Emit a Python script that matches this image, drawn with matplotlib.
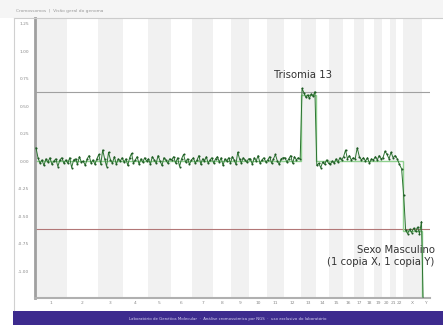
import numpy as np
import matplotlib
matplotlib.use('Agg')
import matplotlib.pyplot as plt
from matplotlib.patches import Rectangle
from matplotlib.lines import Line2D

# chromosome sizes in Mb
chroms = ['1', '2', '3', '4', '5', '6', '7', '8', '9', '10', '11', '12', '13', '14', '15',
          '16', '17', '18', '19', '20', '21', '22', 'X', 'Y']
sizes = [249, 243, 198, 191, 181, 171, 159, 146, 141, 136, 135, 134, 115, 107, 103,
         90, 81, 78, 59, 63, 48, 51, 155, 59]

# log2 ratio per bin
ratios = [
    [0.12, 0.03, -0.02, 0.01, -0.04, 0.02, -0.01, 0.03, -0.03, 0.00, 0.02, -0.05, 0.01, 0.03, -0.02, 0.01],
    [-0.02, 0.03, -0.06, 0.01, 0.02, -0.03, 0.04, -0.01, 0.00, -0.04, 0.02, 0.05, -0.02, 0.01, -0.03, 0.02],
    [0.06, -0.03, 0.10, 0.02, -0.05, 0.08, 0.01, -0.02, 0.04, -0.03, 0.02, 0.00, 0.03],
    [-0.01, 0.02, -0.04, 0.03, 0.07, -0.02, 0.01, 0.04, -0.03, 0.02, -0.01, 0.03, 0.00],
    [0.02, -0.03, 0.04, 0.01, -0.02, 0.05, 0.00, -0.04, 0.03, 0.01, -0.02, 0.02],
    [0.01, 0.04, -0.02, 0.03, -0.05, 0.02, 0.06, -0.01, 0.02, -0.03, 0.01],
    [0.03, -0.02, 0.01, 0.05, -0.03, 0.02, 0.00, 0.04, -0.02, 0.01, 0.03],
    [-0.02, 0.02, 0.04, -0.01, 0.03, -0.04, 0.02, 0.00, 0.03, -0.02],
    [0.04, 0.01, -0.03, 0.08, 0.02, -0.02, 0.03, 0.01, -0.01, 0.02],
    [0.02, -0.03, 0.03, 0.00, 0.05, -0.02, 0.01, 0.03, -0.01],
    [0.01, 0.04, -0.02, 0.02, 0.06, 0.00, -0.03, 0.02, 0.03],
    [0.03, -0.01, 0.02, 0.05, -0.02, 0.04, 0.01, 0.03, 0.02],
    [0.66, 0.62, 0.58, 0.60, 0.57, 0.61, 0.59, 0.63],
    [-0.04, -0.02, -0.06, -0.01, -0.03, 0.01, -0.02],
    [-0.03, 0.00, -0.02, 0.02, -0.01, 0.03, 0.01],
    [0.04, 0.10, 0.02, 0.05, 0.01, 0.03],
    [0.02, 0.12, 0.04, 0.01, 0.03],
    [0.00, 0.03, -0.02, 0.02, 0.01],
    [0.04, 0.01, 0.05, 0.02],
    [0.03, 0.09, 0.06, 0.02],
    [0.08, 0.03, 0.05],
    [0.02, -0.03, -0.07],
    [-0.31, -0.63, -0.66, -0.62, -0.65, -0.61, -0.64, -0.60, -0.66, -0.55],
    [-1.8, -1.8],
]

# segmented level per chromosome
segments = [0, 0, 0, 0, 0, 0, 0, 0, 0, 0, 0, 0, 0.60, 0, 0, 0, 0, 0, 0, 0, 0, 0, -0.64, -1.8]

gain_line = 0.627
loss_line = -0.618
yticks = [1.25, 1.0, 0.75, 0.5, 0.25, 0.0, -0.25, -0.5, -0.75, -1.0]

edges = np.concatenate([[0], np.cumsum(sizes)])
total = edges[-1]

fig = plt.figure(figsize=(4.43, 3.25), dpi=100)
ax = fig.add_axes([35 / 443, 27 / 325, 395 / 443, 280 / 325])

# page decorations
fig.add_artist(Rectangle((0, 307 / 325), 1, 18 / 325, transform=fig.transFigure,
                         facecolor='#f5f5f5', edgecolor='none', zorder=-5))
fig.add_artist(Line2D([14 / 443, 1], [307 / 325, 307 / 325], transform=fig.transFigure,
                      color='#cccccc', lw=0.8))
fig.add_artist(Line2D([14 / 443, 14 / 443], [15 / 325, 307 / 325], transform=fig.transFigure,
                      color='#d0d0d0', lw=0.8))
fig.text(16 / 443, 314 / 325, 'Cromossomos  |  Visão geral do genoma', fontsize=3.2,
         color='#9a9a9a', va='center')
fig.add_artist(Rectangle((13 / 443, 0), 1, 14 / 325, transform=fig.transFigure,
                         facecolor='#3d2b8e', edgecolor='none'))
fig.text(228 / 443, 6 / 325,
         'Laboratório de Genética Molecular  ·  Análise cromossômica por NGS  ·  uso exclusivo do laboratório',
         fontsize=2.8, color='#d8d2f2', ha='center', va='center')

# chromosome bands
for i in range(len(sizes)):
    if i % 2 == 0:
        ax.axvspan(edges[i], edges[i + 1], color='#f1f1f1', lw=0, zorder=0)

ax.axhline(gain_line, color='#a0a0a0', lw=0.8, zorder=1)
ax.axhline(loss_line, color='#b27777', lw=0.8, zorder=1)

xs = []
ys = []
for i, vals in enumerate(ratios):
    n = len(vals)
    step = sizes[i] / n
    xs.extend(edges[i] + step * (np.arange(n) + 0.5))
    ys.extend(vals)

ax.stairs(segments, edges, baseline=None, color='#8fd18f', lw=1.0, zorder=2)
ax.plot(xs, ys, color='#2c7331', lw=0.7, marker='o', ms=1.5, mfc='#1f5a24', mec='none', zorder=3)

ax.text(edges[12] + sizes[12] / 2 - 40, 0.78, 'Trisomia 13', fontsize=7.3, color='#333333',
        ha='center', va='center')
ax.text(1.012, -0.86, 'Sexo Masculino\n(1 copia X, 1 copia Y)', transform=ax.get_yaxis_transform(),
        fontsize=7.3, color='#333333', ha='right', va='center', multialignment='right',
        linespacing=1.25, clip_on=False)

ax.set_xlim(0, total)
ax.set_ylim(-1.245, 1.3)
ax.set_yticks(yticks)
ax.set_yticklabels([f'{v:.2f}' for v in yticks])
ax.set_xticks(edges[:-1] + np.array(sizes) / 2)
ax.set_xticklabels(chroms)
ax.tick_params(axis='both', length=0, labelsize=3.2, colors='#8a8a8a')
ax.tick_params(axis='y', pad=4)
ax.tick_params(axis='x', pad=2)

ax.set_facecolor('white')
for s in ['top', 'right']:
    ax.spines[s].set_visible(False)
ax.spines['left'].set_color('#a0a0a0')
ax.spines['left'].set_linewidth(2)
ax.spines['bottom'].set_color('#b0b0b0')
ax.spines['bottom'].set_linewidth(1.5)

fig.savefig('out.png', dpi=100)
